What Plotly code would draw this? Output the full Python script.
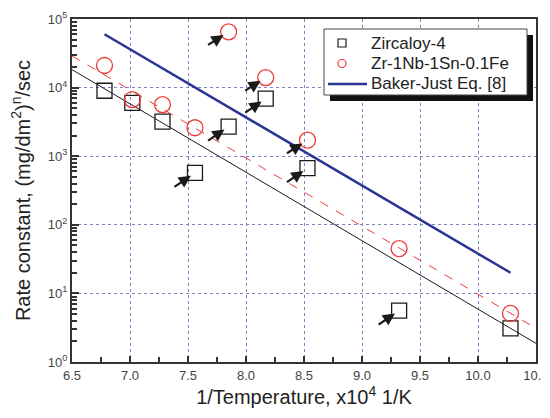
import plotly.graph_objects as go
import numpy as np

# ---- data ----
inv_temp = [6.78, 7.02, 7.28, 7.56, 7.85, 8.17, 8.53, 9.32, 10.28]
zircaloy4 = [9000, 6000, 3200, 570, 2700, 6900, 670, 5.6, 3.1]
zr_nb_sn_fe = [21000, 6700, 5650, 2600, 65000, 14000, 1710, 45, 5.1]

fit_x = [6.5, 10.5]
zircaloy4_fit = [18300, 1.87]
zr_nb_sn_fe_fit = [29000, 3.1]

baker_just_x = [6.78, 10.28]
baker_just = [60000, 20]

series_names = ["Zircaloy-4", "Zr-1Nb-1Sn-0.1Fe", "Baker-Just Eq. [8]"]

# indices of points flagged with arrows
zr4_arrow_idx = [3, 4, 5, 6, 7]
znb_arrow_idx = [4, 5, 6]

x_ticks = [6.5, 7.0, 7.5, 8.0, 8.5, 9.0, 9.5, 10.0, 10.5]
x_tick_text = ["6.5", "7.0", "7.5", "8.0", "8.5", "9.0", "9.5", "10.0", "10.5"]
y_ticks = [1, 10, 100, 1000, 10000, 100000]
y_tick_text = ["10<sup>0</sup>", "10<sup>1</sup>", "10<sup>2</sup>",
               "10<sup>3</sup>", "10<sup>4</sup>", "10<sup>5</sup>"]
y_minor = [m * 10 ** k for k in range(0, 5) for m in range(2, 10)]

BLACK = "#1a1a1a"
RED = "#ee3a36"
BLUE = "#2b3594"
GRID = "#7c84c8"
FONT = "Liberation Sans, Arial, sans-serif"

# the page body has an 8px margin, so the figure is sized to fit the window
OFF = 8
W, H = 550 - OFF, 418 - OFF
ML, MR, MT, MB = 72 - OFF, 14, 19 - OFF, 56
PW, PH = W - ML - MR, H - MT - MB


def px(xp):  # window pixel -> paper fraction
    return (xp - OFF - ML) / PW


def py(yp):
    return (H - MB - (yp - OFF)) / PH


fig = go.Figure()

# fitted lines
fig.add_trace(go.Scatter(x=fit_x, y=zircaloy4_fit, mode="lines",
                         line=dict(color=BLACK, width=1), showlegend=False,
                         hoverinfo="skip"))
fig.add_trace(go.Scatter(x=fit_x, y=zr_nb_sn_fe_fit, mode="lines",
                         line=dict(color=RED, width=1, dash="dash"),
                         showlegend=False, hoverinfo="skip"))
fig.add_trace(go.Scatter(x=baker_just_x, y=baker_just, mode="lines",
                         name=series_names[2],
                         line=dict(color=BLUE, width=2.5), showlegend=False))

# data points
fig.add_trace(go.Scatter(x=inv_temp, y=zircaloy4, mode="markers",
                         name=series_names[0],
                         marker=dict(symbol="square-open", size=15,
                                     color=BLACK, line=dict(width=1.3)),
                         showlegend=False))
fig.add_trace(go.Scatter(x=inv_temp, y=zr_nb_sn_fe, mode="markers",
                         name=series_names[1],
                         marker=dict(symbol="circle-open", size=16,
                                     color=RED, line=dict(width=1.3)),
                         showlegend=False))

# arrows
annotations = []
for idx in zr4_arrow_idx:
    annotations.append(dict(x=inv_temp[idx], y=np.log10(zircaloy4[idx]),
                            xref="x", yref="y", ax=-22, ay=15, text="",
                            showarrow=True, arrowhead=2, arrowsize=1.1,
                            arrowwidth=2.2, arrowcolor=BLACK, standoff=5))
for idx in znb_arrow_idx:
    annotations.append(dict(x=inv_temp[idx], y=np.log10(zr_nb_sn_fe[idx]),
                            xref="x", yref="y", ax=-22, ay=14, text="",
                            showarrow=True, arrowhead=2, arrowsize=1.1,
                            arrowwidth=2.2, arrowcolor=BLACK, standoff=6))

# hand-drawn legend box with drop shadow (window pixel positions -> paper)
LX0, LX1, LY0, LY1 = 324, 527, 29, 95
shapes = [
    dict(type="rect", xref="paper", yref="paper",
         x0=px(LX0 + 6), x1=px(LX1 + 6), y0=py(LY1 + 6), y1=py(LY0 + 6),
         fillcolor="#111111", line=dict(width=0), layer="above"),
    dict(type="rect", xref="paper", yref="paper",
         x0=px(LX0), x1=px(LX1), y0=py(LY1), y1=py(LY0),
         fillcolor="white", line=dict(color="#444444", width=1), layer="above"),
    # square symbol
    dict(type="rect", xref="paper", yref="paper",
         x0=px(338), x1=px(346), y0=py(47), y1=py(39),
         fillcolor="rgba(0,0,0,0)", line=dict(color=BLACK, width=1.2), layer="above"),
    # circle symbol
    dict(type="circle", xref="paper", yref="paper",
         x0=px(338), x1=px(346), y0=py(67.5), y1=py(59.5),
         fillcolor="rgba(0,0,0,0)", line=dict(color=RED, width=1.2), layer="above"),
    # line symbol
    dict(type="line", xref="paper", yref="paper",
         x0=px(328), x1=px(367), y0=py(84), y1=py(84),
         line=dict(color=BLUE, width=2.5), layer="above"),
]
for name, yy in zip(series_names, [43, 63.5, 84]):
    annotations.append(dict(x=px(369), y=py(yy), xref="paper", yref="paper",
                            xanchor="left", yanchor="middle", text=name,
                            showarrow=False,
                            font=dict(size=17, family=FONT, color="#222222")))

fig.update_layout(
    width=W, height=H,
    margin=dict(l=ML, r=MR, t=MT, b=MB),
    paper_bgcolor="white", plot_bgcolor="white",
    font=dict(family=FONT, color="#222222"),
    showlegend=False,
    annotations=annotations,
    shapes=shapes,
    xaxis=dict(range=[6.5, 10.5], tickmode="array", tickvals=x_ticks,
               ticktext=x_tick_text, ticks="inside", ticklen=6, tickwidth=1.5,
               tickcolor="#333333", automargin=False,
               tickfont=dict(size=13, color="#444444"),
               showline=True, linecolor="#333333", linewidth=2, mirror=True,
               showgrid=True, gridcolor=GRID, gridwidth=1, griddash="dot",
               minor=dict(tickmode="linear", tick0=6.5, dtick=0.25,
                          ticks="inside", ticklen=5, tickwidth=1.5,
                          tickcolor="#333333", showgrid=False),
               zeroline=False,
               title=dict(text="1/Temperature, x10<sup>4</sup> 1/K",
                          font=dict(size=20, color="#222222"), standoff=6)),
    yaxis=dict(type="log", range=[0, 5], tickmode="array", tickvals=y_ticks,
               ticktext=y_tick_text, ticks="inside", ticklen=7, tickwidth=1.5,
               tickcolor="#333333", automargin=False,
               tickfont=dict(size=13, color="#444444"),
               showline=True, linecolor="#333333", linewidth=2, mirror=True,
               showgrid=True, gridcolor=GRID, gridwidth=1, griddash="dot",
               minor=dict(tickmode="array", tickvals=y_minor, ticks="inside",
                          ticklen=5, tickwidth=1.5, tickcolor="#333333",
                          showgrid=False),
               zeroline=False,
               title=dict(text="Rate constant, (mg/dm<sup>2</sup>)<sup>n</sup>/sec",
                          font=dict(size=20, color="#222222"), standoff=12)),
)

fig.write_html("out.html")
